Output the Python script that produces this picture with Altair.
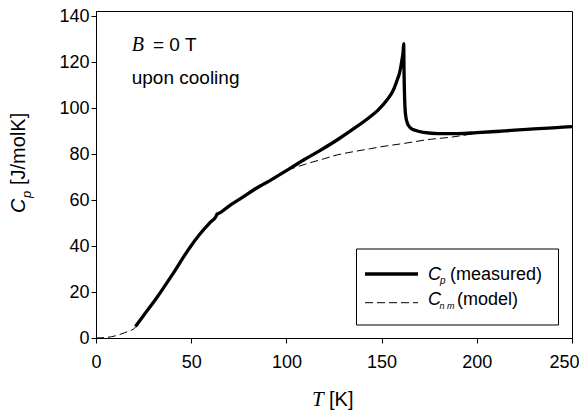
import altair as alt
import pandas as pd

# Measured Cp (solid, thick)
meas_T = [20.7, 25, 31.9, 39.8, 49.4, 54.7, 60, 63, 63.5, 65, 70, 75.7, 84, 92.4, 100,
          109, 118, 126.6, 135, 144, 148, 152.8, 156, 158.1, 159.5, 160.7, 161.3, 161.6,
          161.8, 162.1, 162.6, 163.5, 165, 168, 172, 180, 190, 200, 210, 220, 230, 240, 250]
meas_C = [5, 9.8, 17.5, 27.2, 39.5, 45.3, 50.3, 52.8, 53.8, 54.4, 57.5, 60.5, 65, 69, 72.8,
          77.4, 81.7, 86.1, 90.8, 96.2, 99, 103.5, 107.5, 112, 115.5, 121, 124.5, 128,
          115, 104, 97, 93.5, 91.5, 90.2, 89.4, 88.9, 88.9, 89.3, 89.8, 90.4, 90.9, 91.4, 91.9]

# Model C_nm (dashed, thin)
model_T = [0, 5, 10, 15, 20.7, 25, 31.9, 39.8, 49.4, 54.7, 60, 65, 70, 75.7, 84, 92.4,
           100, 110, 120, 126.6, 135, 144, 149.3, 161.6, 175.6, 186.1, 200.2, 210, 220,
           230, 240, 250]
model_C = [0, 0.2, 0.9, 2.3, 4.6, 9.6, 17.4, 27.1, 39.4, 45.2, 50.2, 54.2, 57.4, 60.4,
           64.9, 68.9, 72.6, 75.6, 78.0, 79.6, 81.0, 82.3, 83.1, 84.6, 86.4, 87.3, 89.0,
           89.8, 90.4, 90.9, 91.4, 91.9]

x_ticks = [0, 50, 100, 150, 200, 250]
y_ticks = [0, 20, 40, 60, 80, 100, 120, 140]

SANS = "Liberation Sans"
SERIF = "Liberation Serif"

meas_df = pd.DataFrame({"T": meas_T, "C": meas_C})
model_df = pd.DataFrame({"T": model_T, "C": model_C})
one = pd.DataFrame({"k": [0]})

xs = alt.Scale(domain=[0, 250], nice=False)
ys = alt.Scale(domain=[0, 142.2], nice=False)

xax = alt.Axis(values=x_ticks, title=None, grid=False, tickSize=5, labelPadding=10,
               labelFont=SANS, labelFontSize=18, labelColor="black",
               domainColor="black", tickColor="black", labelFlush=False,
               labelOffset={"expr": "datum.value == 250 ? -8 : 0"})
yax = alt.Axis(values=y_ticks, title=None, grid=False, tickSize=5, labelPadding=2,
               labelFont=SANS, labelFontSize=18, labelColor="black",
               domainColor="black", tickColor="black")

model = alt.Chart(model_df).mark_line(
    color="black", strokeWidth=1, strokeDash=[8, 4], interpolate="monotone"
).encode(x=alt.X("T:Q", scale=xs, axis=xax), y=alt.Y("C:Q", scale=ys, axis=yax))

meas = alt.Chart(meas_df).mark_line(
    color="black", strokeWidth=3.3, interpolate="monotone"
).encode(x=alt.X("T:Q", scale=xs), y=alt.Y("C:Q", scale=ys))


def txt(s, x, y, size, font=SANS, style="normal", angle=0, align="left"):
    return alt.Chart(one).mark_text(
        text=s, font=font, fontSize=size, fontStyle=style, angle=angle,
        align=align, baseline="alphabetic", color="black"
    ).encode(x=alt.value(x), y=alt.value(y))


def seg(x1, x2, y, width, dash=None):
    kw = dict(color="black", strokeWidth=width)
    if dash:
        kw["strokeDash"] = dash
    return alt.Chart(one).mark_rule(**kw).encode(
        x=alt.value(x1), x2=alt.value(x2), y=alt.value(y))


# layout offsets are relative to the plot origin (plot top now 3px lower)
D = -3
legend_box = alt.Chart(one).mark_rect(
    fill="white", stroke="black", strokeWidth=1
).encode(x=alt.value(260.5), x2=alt.value(462.5), y=alt.value(241 + D), y2=alt.value(317 + D))

layers = [
    model, meas,
    # annotation
    txt("B", 35.7, 42.7 + D, 20, SERIF, "italic"),
    txt("= 0 T", 57, 42.7 + D, 19),
    txt("upon cooling", 35.7, 76 + D, 19),
    # legend
    legend_box,
    seg(269, 322, 266 + D, 3.3),
    seg(269, 322, 294.7 + D, 1, [8, 4]),
    txt("C", 332, 272 + D, 18, SANS, "italic"),
    txt("p", 344, 276 + D, 10, SANS, "italic"),
    txt("(measured)", 354, 272 + D, 18),
    txt("C", 332, 297 + D, 18, SANS, "italic"),
    txt("n m", 343.5, 301 + D, 9, SANS, "italic"),
    txt("(model)", 361, 297 + D, 18),
    # x title
    txt("T", 216, 398 + D, 21, SERIF, "italic"),
    txt("[K]", 233, 398 + D, 20),
    # y title (rotated)
    txt("C", -71, 205 + D, 20, SANS, "italic", angle=270),
    txt("p", -65, 190 + D, 13, SANS, "italic", angle=270),
    txt("[J/molK]", -71, 177 + D, 20, SANS, "normal", angle=270),
]

chart = alt.layer(*layers).properties(
    width=476, height=327,
    autosize=alt.AutoSizeParams(type="none"),
    padding={"left": 88, "top": 3, "right": 7, "bottom": 76},
).configure_view(stroke="black", strokeWidth=1)

chart.save("out.html", embed_options={"renderer": "svg", "actions": False})
